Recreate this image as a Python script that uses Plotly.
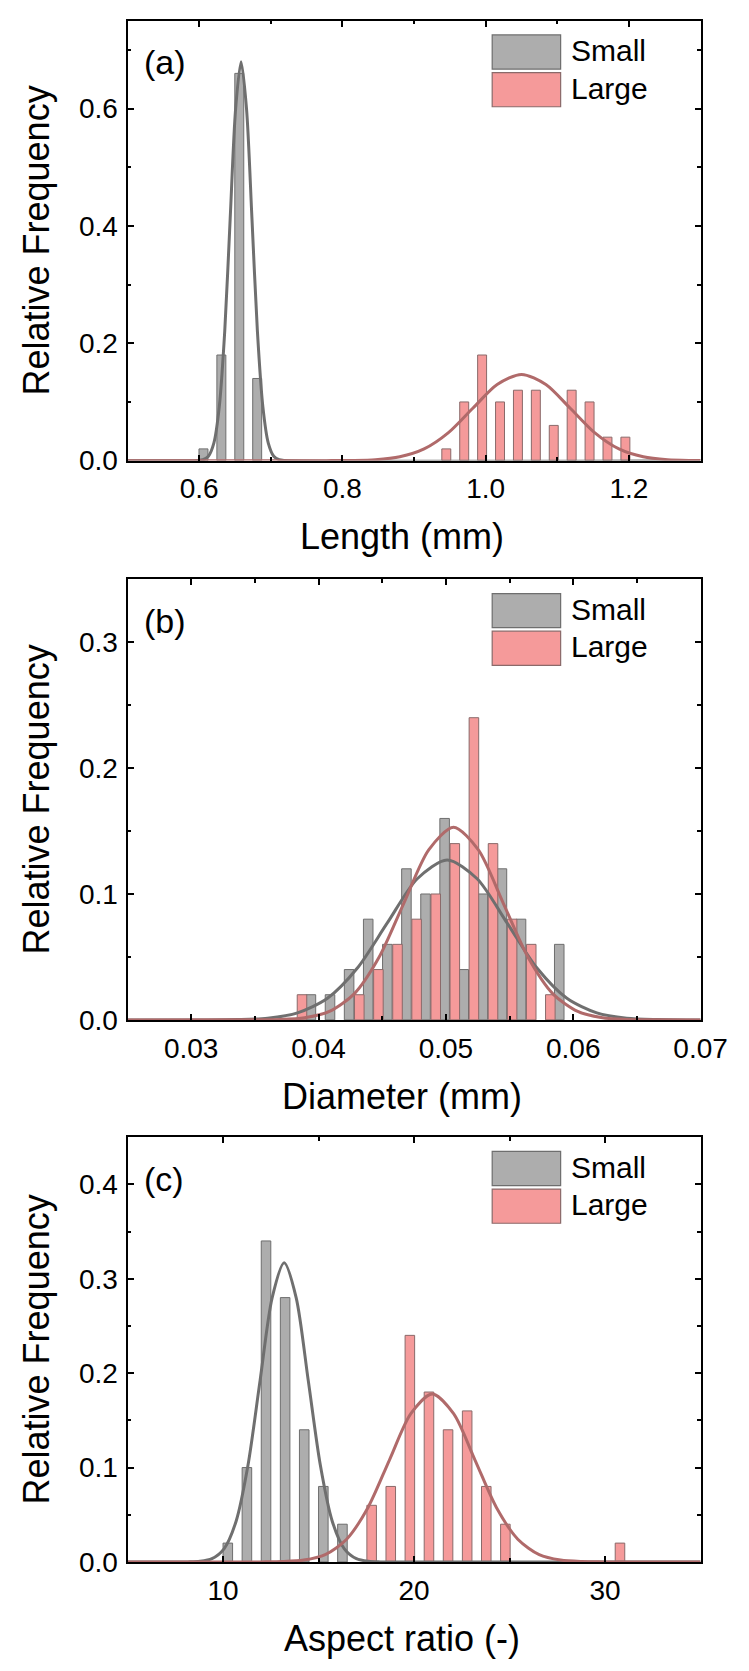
import plotly.graph_objects as go

# ---------------- data ----------------
# Panel (a): Length (mm)
len_small_x = [0.606, 0.631, 0.656, 0.681]
len_small_y = [0.02, 0.18, 0.66, 0.14]
len_large_x = [0.945, 0.970, 0.995, 1.020, 1.045, 1.070, 1.095, 1.120, 1.145, 1.170, 1.195]
len_large_y = [0.02, 0.10, 0.18, 0.10, 0.12, 0.12, 0.06, 0.12, 0.10, 0.04, 0.04]
len_small_fit_x = [0.50, 0.5977, 0.6053, 0.6129, 0.6205, 0.6281, 0.6357, 0.6433, 0.6509, 0.6585,
                   0.6661, 0.6737, 0.6813, 0.6889, 0.6965, 0.7041, 0.7117, 0.7193, 1.30]
len_small_fit_y = [0.0, 0.0002, 0.0015, 0.0075, 0.0298, 0.0920, 0.2208, 0.4124, 0.6001, 0.6800,
                   0.6001, 0.4124, 0.2208, 0.0920, 0.0298, 0.0075, 0.0015, 0.0002, 0.0]
len_large_fit_x = [0.50, 0.778, 0.812, 0.846, 0.880, 0.914, 0.948, 0.982, 1.016, 1.050,
                   1.084, 1.118, 1.152, 1.186, 1.220, 1.254, 1.288, 1.30]
len_large_fit_y = [0.0, 0.0, 0.0003, 0.0016, 0.0065, 0.0199, 0.0477, 0.0892, 0.1297, 0.1470,
                   0.1297, 0.0892, 0.0477, 0.0199, 0.0065, 0.0016, 0.0003, 0.0001]

# Panel (b): Diameter (mm)
dia_small_x = [0.0394, 0.0409, 0.0424, 0.0439, 0.0454, 0.0469, 0.0484, 0.0499, 0.0514,
               0.0529, 0.0544, 0.0559, 0.0589]
dia_small_y = [0.02, 0.02, 0.04, 0.08, 0.06, 0.12, 0.10, 0.16, 0.04, 0.10, 0.12, 0.08, 0.06]
dia_large_x = [0.0387, 0.0432, 0.0447, 0.0462, 0.0477, 0.0492, 0.0507, 0.0522, 0.0537,
               0.0552, 0.0567, 0.0582]
dia_large_y = [0.02, 0.02, 0.04, 0.06, 0.08, 0.10, 0.14, 0.24, 0.14, 0.08, 0.06, 0.02]
dia_small_fit_x = [0.025, 0.0313, 0.03365, 0.0360, 0.03835, 0.0407, 0.04305, 0.0454, 0.04775, 0.0501,
                   0.05245, 0.0548, 0.05715, 0.0595, 0.06185, 0.0642, 0.06655, 0.0689, 0.070]
dia_small_fit_y = [0.0, 0.0, 0.0003, 0.0014, 0.0056, 0.0172, 0.0412, 0.0770, 0.1121, 0.1270,
                   0.1121, 0.0770, 0.0412, 0.0172, 0.0056, 0.0014, 0.0003, 0.0, 0.0]
dia_large_fit_x = [0.025, 0.0350, 0.03695, 0.0389, 0.04085, 0.0428, 0.04475, 0.0467, 0.04865, 0.0506,
                   0.05255, 0.0545, 0.05645, 0.0584, 0.06035, 0.0623, 0.06425, 0.0662, 0.070]
dia_large_fit_y = [0.0, 0.0001, 0.0003, 0.0017, 0.0067, 0.0207, 0.0497, 0.0928, 0.1350, 0.1530,
                   0.1350, 0.0928, 0.0497, 0.0207, 0.0067, 0.0017, 0.0003, 0.0001, 0.0]

# Panel (c): Aspect ratio (-)
ar_small_x = [10.25, 11.25, 12.25, 13.25, 14.25, 15.25, 16.25]
ar_small_y = [0.02, 0.10, 0.34, 0.28, 0.14, 0.08, 0.04]
ar_large_x = [17.78, 18.78, 19.78, 20.78, 21.78, 22.78, 23.78, 24.78, 30.78]
ar_large_y = [0.06, 0.08, 0.24, 0.18, 0.14, 0.16, 0.08, 0.04, 0.02]
ar_small_fit_x = [5.0, 8.16, 8.79, 9.42, 10.05, 10.68, 11.31, 11.94, 12.57, 13.20,
                  13.83, 14.46, 15.09, 15.72, 16.35, 16.98, 17.61, 18.24, 35.0]
ar_small_fit_y = [0.0, 0.0001, 0.0007, 0.0035, 0.0139, 0.0429, 0.1029, 0.1923, 0.2798, 0.3170,
                  0.2798, 0.1923, 0.1029, 0.0429, 0.0139, 0.0035, 0.0007, 0.0001, 0.0]
ar_large_fit_x = [5.0, 11.99, 13.11, 14.23, 15.35, 16.47, 17.59, 18.71, 19.83, 20.95,
                  22.07, 23.19, 24.31, 25.43, 26.55, 27.67, 28.79, 29.91, 35.0]
ar_large_fit_y = [0.0, 0.0001, 0.0004, 0.0020, 0.0078, 0.0241, 0.0578, 0.1080, 0.1571, 0.1780,
                  0.1571, 0.1080, 0.0578, 0.0241, 0.0078, 0.0020, 0.0004, 0.0001, 0.0]

series_names = ["Small", "Large"]
panel_labels = ["(a)", "(b)", "(c)"]
x_titles = ["Length (mm)", "Diameter (mm)", "Aspect ratio (-)"]
y_title = "Relative Frequency"

# ---------------- styling / layout ----------------
W, H = 749, 1671
FONT = "Liberation Sans, Arial, sans-serif"
GRAY_FILL, GRAY_LINE, GRAY_CURVE = "#ADADAD", "#6E6E6E", "#6F6F6F"
PINK_FILL, PINK_LINE, PINK_CURVE = "#F59A9A", "#8A6A6A", "#B06A6A"

X_LEFT, X_RIGHT = 124, 718.5
panels_px = [(12.7, 457.0), (576.7, 1021.7), (1140.0, 1569.0)]

panels = [
    dict(sx=len_small_x, sy=len_small_y, lx=len_large_x, ly=len_large_y, bw=0.0125,
         sfx=len_small_fit_x, sfy=len_small_fit_y, lfx=len_large_fit_x, lfy=len_large_fit_y,
         xr=[0.5, 1.3], xd=0.2, xm=0.1, xf=".1f", yr=[0, 0.75], yd=0.2, ym=0.1),
    dict(sx=dia_small_x, sy=dia_small_y, lx=dia_large_x, ly=dia_large_y, bw=0.00075,
         sfx=dia_small_fit_x, sfy=dia_small_fit_y, lfx=dia_large_fit_x, lfy=dia_large_fit_y,
         xr=[0.025, 0.07], xd=0.01, xm=0.005, xf=".2f", yr=[0, 0.35], yd=0.1, ym=0.05),
    dict(sx=ar_small_x, sy=ar_small_y, lx=ar_large_x, ly=ar_large_y, bw=0.5,
         sfx=ar_small_fit_x, sfy=ar_small_fit_y, lfx=ar_large_fit_x, lfy=ar_large_fit_y,
         xr=[5, 35], xd=10, xm=5, xf="d", yr=[0, 0.45], yd=0.1, ym=0.05),
]

fig = go.Figure()
layout = dict(width=W, height=H, margin=dict(l=0, r=0, t=0, b=0),
              paper_bgcolor="white", plot_bgcolor="white", showlegend=False,
              barmode="overlay", font=dict(family=FONT, color="black"))
shapes, annotations = [], []

for i, p in enumerate(panels):
    n = "" if i == 0 else str(i + 1)
    xa, ya = "x" + n, "y" + n
    top, bot = panels_px[i]
    ph = bot - top
    pw = X_RIGHT - X_LEFT

    fig.add_trace(go.Bar(x=p["sx"], y=p["sy"], width=p["bw"], xaxis=xa, yaxis=ya,
                         marker=dict(color=GRAY_FILL, line=dict(color=GRAY_LINE, width=1)),
                         name=series_names[0]))
    fig.add_trace(go.Bar(x=p["lx"], y=p["ly"], width=p["bw"], xaxis=xa, yaxis=ya,
                         marker=dict(color=PINK_FILL, line=dict(color=PINK_LINE, width=1)),
                         name=series_names[1]))
    fig.add_trace(go.Scatter(x=p["sfx"], y=p["sfy"], mode="lines", xaxis=xa, yaxis=ya,
                             line=dict(color=GRAY_CURVE, width=3, shape="spline", smoothing=0.8)))
    fig.add_trace(go.Scatter(x=p["lfx"], y=p["lfy"], mode="lines", xaxis=xa, yaxis=ya,
                             line=dict(color=PINK_CURVE, width=3, shape="spline", smoothing=0.8)))

    common = dict(showline=True, linecolor="black", linewidth=2, mirror="ticks",
                  ticks="inside", ticklen=6, tickwidth=1.5, tickcolor="black",
                  showgrid=False, zeroline=False,
                  tickfont=dict(family=FONT, size=28, color="black"))
    layout["xaxis" + n] = dict(common, domain=[X_LEFT / W, X_RIGHT / W], anchor=ya,
                               range=p["xr"], dtick=p["xd"], tick0=0, tickformat=p["xf"],
                               ticklabelstandoff=2,
                               minor=dict(ticks="inside", ticklen=3.5, dtick=p["xm"], tick0=0,
                                          tickcolor="black", tickwidth=1.5))
    layout["yaxis" + n] = dict(common, domain=[1 - bot / H, 1 - top / H], anchor=xa,
                               range=p["yr"], dtick=p["yd"], tick0=0, tickformat=".1f",
                               ticklabelstandoff=2,
                               minor=dict(ticks="inside", ticklen=3.5, dtick=p["ym"], tick0=0,
                                          tickcolor="black", tickwidth=1.5))

    xd_ref, yd_ref = xa + " domain", ya + " domain"
    fx = lambda px: (px - X_LEFT) / pw
    fy = lambda off: 1 - off / ph
    # custom legend boxes
    for (o0, o1), fill, line, name in [((14.5, 49.0), GRAY_FILL, GRAY_LINE, series_names[0]),
                                       ((52.5, 87.0), PINK_FILL, PINK_LINE, series_names[1])]:
        shapes.append(dict(type="rect", xref=xd_ref, yref=yd_ref,
                           x0=fx(502.3), x1=fx(573.3), y0=fy(o1), y1=fy(o0),
                           fillcolor=fill, line=dict(color=line, width=1.2)))
        annotations.append(dict(xref=xd_ref, yref=yd_ref, x=fx(582), y=fy((o0 + o1) / 2 - 1.5),
                                xanchor="left", yanchor="middle", showarrow=False, text=name,
                                font=dict(family=FONT, size=30, color="black")))
    # panel letter
    annotations.append(dict(xref=xd_ref, yref=yd_ref, x=fx(139), y=fy(42),
                            xanchor="left", yanchor="middle", showarrow=False,
                            text=panel_labels[i], font=dict(family=FONT, size=34, color="black")))
    # axis titles
    annotations.append(dict(xref="paper", yref="paper", x=409 / W, y=1 - (bot + 77) / H,
                            xanchor="center", yanchor="middle", showarrow=False,
                            text=x_titles[i], font=dict(family=FONT, size=36, color="black")))
    annotations.append(dict(xref="paper", yref="paper", x=30 / W, y=1 - (top + bot) / 2 / H,
                            xanchor="center", yanchor="middle", showarrow=False, textangle=-90,
                            text=y_title, font=dict(family=FONT, size=36, color="black")))

layout["shapes"] = shapes
layout["annotations"] = annotations
fig.update_layout(**layout)
fig.write_html("out.html")
